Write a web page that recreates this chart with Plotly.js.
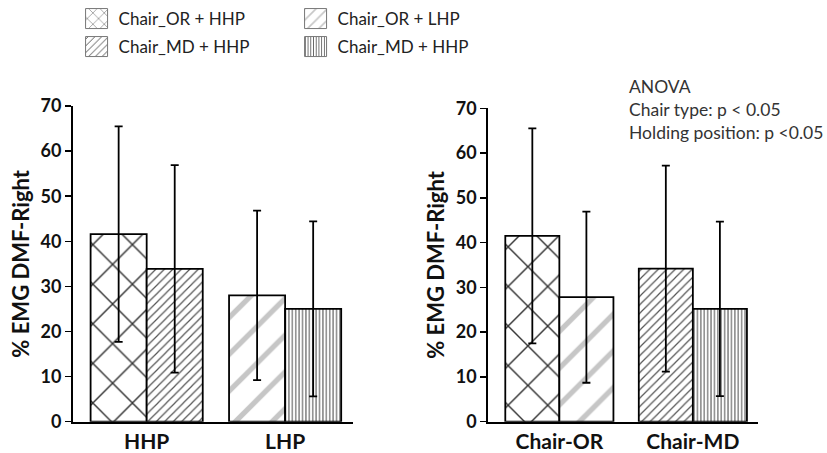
<!DOCTYPE html>
<html>
<head>
<meta charset="utf-8">
<script src="https://cdn.plot.ly/plotly-3.0.1.min.js"></script>
<style>html,body{margin:0;padding:0;background:#fff;}#chart{width:827px;height:453px;}</style>
</head>
<body>
<div id="chart"></div>
<script>
// ---- data ----
var leftCats = ['HHP', 'LHP'];
var rightCats = ['Chair-OR', 'Chair-MD'];
var seriesNames = ['Chair_OR + HHP', 'Chair_MD + HHP', 'Chair_OR + LHP', 'Chair_MD + HHP'];
// left panel: means and SD
var orHHP = 41.6, orHHPsd = 23.9;
var mdHHP = 33.9, mdHHPsd = 23.0;
var orLHP = 28.0, orLHPsd = 18.8;
var mdLHP = 25.0, mdLHPsd = 19.4;
// right panel: means and SD
var rOR1 = 41.5, rOR1sd = 24.0;
var rOR2 = 27.8, rOR2sd = 19.1;
var rMD1 = 34.2, rMD1sd = 23.0;
var rMD2 = 25.2, rMD2sd = 19.5;
var yTicks = [0, 10, 20, 30, 40, 50, 60, 70];
var annLines = ['ANOVA', 'Chair type: p < 0.05', 'Holding position: p <0.05'];

// ---- styles ----
var FONT = 'Lato, "Open Sans", sans-serif';
var pat = {
  x:   {shape: 'x', size: 28, solidity: 0.1, fgcolor: '#333', bgcolor: '#fff'},
  d:   {shape: '/', size: 6, solidity: 0.2, fgcolor: '#555', bgcolor: '#fff'},
  l:   {shape: '/', size: 26, solidity: 0.2, fgcolor: '#c6c6c6', bgcolor: '#fff'},
  v:   {shape: '|', size: 3.4, solidity: 0.35, fgcolor: '#666', bgcolor: '#fff'}
};
function bar(name, x, y, sd, p, og, xa, ya, legend, show) {
  return {
    type: 'bar', name: name, x: [x], y: [y], offsetgroup: og,
    xaxis: xa, yaxis: ya, legend: legend, showlegend: show,
    marker: {color: '#fff', line: {color: '#000', width: 1.8}, pattern: p},
    error_y: {type: 'data', array: [sd], visible: true, color: '#000', thickness: 1.8, width: 4},
    hoverinfo: 'skip'
  };
}
var data = [
  bar(seriesNames[0], leftCats[0], orHHP, orHHPsd, pat.x, 'a', 'x', 'y', 'legend', true),
  bar(seriesNames[2], leftCats[1], orLHP, orLHPsd, pat.l, 'a', 'x', 'y', 'legend', true),
  bar(seriesNames[1], leftCats[0], mdHHP, mdHHPsd, pat.d, 'b', 'x', 'y', 'legend2', true),
  bar(seriesNames[3], leftCats[1], mdLHP, mdLHPsd, pat.v, 'b', 'x', 'y', 'legend2', true),
  bar(seriesNames[0], rightCats[0], rOR1, rOR1sd, pat.x, 'a', 'x2', 'y2', 'legend', false),
  bar(seriesNames[2], rightCats[0], rOR2, rOR2sd, pat.l, 'b', 'x2', 'y2', 'legend', false),
  bar(seriesNames[1], rightCats[1], rMD1, rMD1sd, pat.d, 'a', 'x2', 'y2', 'legend', false),
  bar(seriesNames[3], rightCats[1], rMD2, rMD2sd, pat.v, 'b', 'x2', 'y2', 'legend', false)
];

function yax(domain, anchor) {
  return {
    domain: domain, anchor: anchor, range: [0, 70], tickvals: yTicks, ticktext: yTicks.map(String),
    showgrid: false, zeroline: false, showline: true, linecolor: '#000', linewidth: 2,
    ticks: 'outside', ticklen: 6, tickwidth: 1.5, tickcolor: '#000',
    tickfont: {family: FONT, size: 18, color: '#111', weight: 'bold'},
    title: {text: '% EMG DMF-Right', font: {family: FONT, size: 22, color: '#111', weight: 'bold'}, standoff: 5}
  };
}
function xax(domain, anchor, cats) {
  return {
    domain: domain, anchor: anchor, range: [-0.532, 1.49], type: 'category',
    categoryarray: cats, categoryorder: 'array',
    showgrid: false, zeroline: false, showline: true, linecolor: '#000', linewidth: 2,
    ticks: '', tickfont: {family: FONT, size: 21, color: '#111', weight: 'bold'}
  };
}
var legCommon = {
  orientation: 'h', xanchor: 'left', yanchor: 'middle',
  font: {family: FONT, size: 17, color: '#222'},
  entrywidth: 174, entrywidthmode: 'pixels', bgcolor: 'rgba(0,0,0,0)', tracegroupgap: 0
};
var layout = {
  width: 827, height: 453, margin: {l: 0, r: 0, t: 0, b: 0},
  paper_bgcolor: '#fff', plot_bgcolor: '#fff',
  barmode: 'group', bargap: 0.19, bargroupgap: 0,
  xaxis: xax([0.0883, 0.4268], 'y', leftCats),
  yaxis: yax([0.0691, 0.766], 'x'),
  xaxis2: xax([0.5905, 0.9169], 'y2', rightCats),
  yaxis2: yax([0.0691, 0.761], 'x2'),
  legend: Object.assign({x: 0.095, y: 1 - 19 / 453}, legCommon),
  legend2: Object.assign({x: 0.095, y: 1 - 47 / 453}, legCommon),
  showlegend: true,
  annotations: [{
    xref: 'paper', yref: 'paper', x: 627 / 827, y: 1 - 74 / 453, xanchor: 'left', yanchor: 'top',
    align: 'left', showarrow: false, text: annLines.join('<br>'),
    font: {family: FONT, size: 17.5, color: '#333'}
  }]
};
Plotly.newPlot('chart', data, layout, {displayModeBar: false, staticPlot: true}).then(function () {
  document.querySelectorAll('.legendpoints path').forEach(function (p) {
    p.setAttribute('d', 'M9,10H-13V-10H9Z');
    p.style.strokeWidth = '1px';
    p.style.stroke = '#777';
  });
});
</script>
</body>
</html>
